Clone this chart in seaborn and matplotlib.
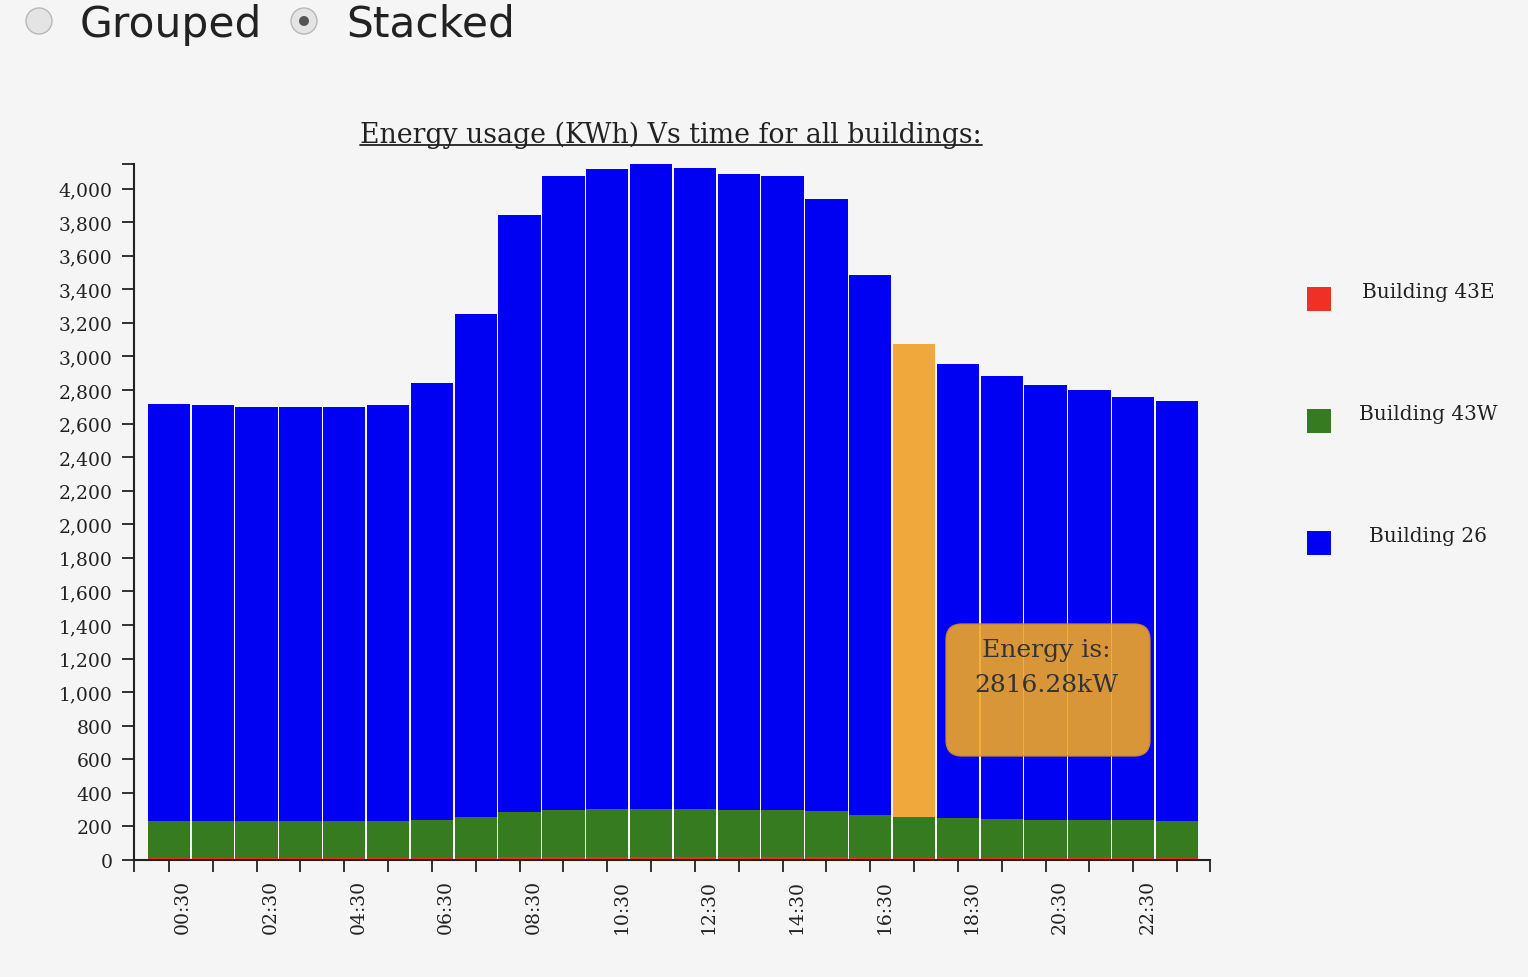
import numpy as np
import pandas as pd
import seaborn as sns
import matplotlib.pyplot as plt
from matplotlib.patches import FancyBboxPatch, Rectangle, Circle
from matplotlib.lines import Line2D
from matplotlib.transforms import IdentityTransform, ScaledTranslation

# hourly readings, one bar per hour
times = ["00:30", "01:30", "02:30", "03:30", "04:30", "05:30", "06:30", "07:30",
         "08:30", "09:30", "10:30", "11:30", "12:30", "13:30", "14:30", "15:30",
         "16:30", "17:30", "18:30", "19:30", "20:30", "21:30", "22:30", "23:30"]
b43e = [10, 10, 10, 10, 10, 10, 10, 13, 18, 20, 20, 20, 20, 20, 19, 18, 11, 9, 9, 9, 9, 9, 9, 9]
b43w = [224, 221, 220, 220, 220, 221, 228, 245, 266, 278, 282, 286,
        282, 280, 277, 272, 259, 246, 239, 235, 231, 229, 227, 225]
b26 = [2480, 2479, 2470, 2468, 2468, 2477, 2602, 2996, 3560, 3776, 3812, 3840,
       3820, 3786, 3778, 3650, 3212, 2816.28, 2704, 2638, 2587, 2560, 2522, 2502]
legend_names = ["Building 43E", "Building 43W", "Building 26"]
hover_idx = 17

bg = "#f5f5f5"
c_red = "#ee3124"
c_green = "#367b1f"
c_blue = "#0000f2"
c_hover = "#f0a83c"
txt = "#222222"

df = pd.DataFrame({"time": times, "Building 43E": b43e, "Building 43W": b43w, "Building 26": b26})
df["w_top"] = df["Building 43E"] + df["Building 43W"]
df["total"] = df["w_top"] + df["Building 26"]

sns.set_theme(style="ticks")
plt.rcParams["font.family"] = ["DejaVu Serif"]

W, H = 1528, 978
fig = plt.figure(figsize=(W / 100, H / 100), dpi=100, facecolor=bg)
ax = fig.add_axes([134 / W, 117 / H, 1076 / W, 696 / H])
ax.set_facecolor(bg)

# stacked look: draw totals, then the lower cumulative parts on top
sns.barplot(data=df, x="time", y="total", color=c_blue, width=0.965, linewidth=0,
            saturation=1, errorbar=None, ax=ax)
ax.patches[hover_idx].set_facecolor(c_hover)
sns.barplot(data=df, x="time", y="w_top", color=c_green, width=0.965, linewidth=0,
            saturation=1, errorbar=None, ax=ax)
sns.barplot(data=df, x="time", y="Building 43E", color=c_red, width=0.965, linewidth=0,
            saturation=1, errorbar=None, ax=ax)

ax.set(xlabel="", ylabel="")
xl, xr = -0.797, 23.751
ytop = df["total"].max()
ax.set_xlim(xl, xr)
ax.set_ylim(0, ytop)
ax.grid(False)

ax.set_yticks(range(0, 4001, 200))
ax.set_yticklabels([f"{v:,}" for v in range(0, 4001, 200)])
ax.set_xticks(range(len(times)))
ax.set_xticklabels([t if i % 2 == 0 else "" for i, t in enumerate(times)], rotation=90)
ax.set_xticks([xl, xr], minor=True)
ax.set_yticks([ytop], minor=True)

for s in ["top", "right"]:
    ax.spines[s].set_visible(False)
for s in ["left", "bottom"]:
    ax.spines[s].set_linewidth(1.5)
    ax.spines[s].set_color(txt)
ax.tick_params(which="both", length=8.6, width=1.3, color=txt, direction="out")
ax.tick_params(axis="y", which="major", pad=7, labelsize=13.5, labelcolor=txt)
ax.tick_params(axis="x", which="major", pad=5, labelsize=13.5, labelcolor=txt)

for lbl in ax.get_xticklabels():
    lbl.set_transform(lbl.get_transform() + ScaledTranslation(0.14, 0, fig.dpi_scale_trans))

ident = IdentityTransform()

# title with underline
title = fig.text(671, H - 143, "Energy usage (KWh) Vs time for all buildings:",
                 transform=ident, ha="center", va="baseline", fontsize=19.3, color=txt)
fig.canvas.draw()
bb = title.get_window_extent()
fig.add_artist(Line2D([bb.x0, bb.x1], [H - 146, H - 146], transform=ident, color=txt, lw=1.3))

# legend on the right
leg_cols = [c_red, c_green, c_blue]
for i, (name, col) in enumerate(zip(legend_names, leg_cols)):
    ytxt = 293 + i * 122
    ysq = 288 + i * 122
    fig.add_artist(Rectangle((1307, H - ysq - 24), 24, 24, transform=ident, fc=col, ec="none"))
    fig.text(1428, H - ytxt, name, transform=ident, ha="center", va="center",
             fontsize=14.5, color=txt)

# tooltip of hovered bar
fig.add_artist(FancyBboxPatch((946, H - 757), 204, 132, boxstyle="round,pad=0,rounding_size=16",
                              transform=ident, fc="#f2a724", ec="#c98a30", lw=1, alpha=0.9))
fig.text(1046, H - 651, "Energy is:", transform=ident, ha="center", va="center",
         fontsize=18, color="#333333")
fig.text(1046, H - 686, f"{b26[hover_idx]:.2f}kW", transform=ident, ha="center", va="center",
         fontsize=18, color="#333333")

# radio buttons
for cx, label, tx, on in [(39, "Grouped", 80, False), (304, "Stacked", 346, True)]:
    fig.add_artist(Circle((cx, H - 22), 13, transform=ident, fc="#e4e4e4", ec="#b8b8b8", lw=1))
    if on:
        fig.add_artist(Circle((cx, H - 22), 5, transform=ident, fc="#555555", ec="none"))
    fig.text(tx, H - 37, label, transform=ident, ha="left", va="baseline",
             fontsize=30.5, color=txt, family=["DejaVu Sans"])

fig.savefig("out.png", dpi=100, facecolor=bg)
